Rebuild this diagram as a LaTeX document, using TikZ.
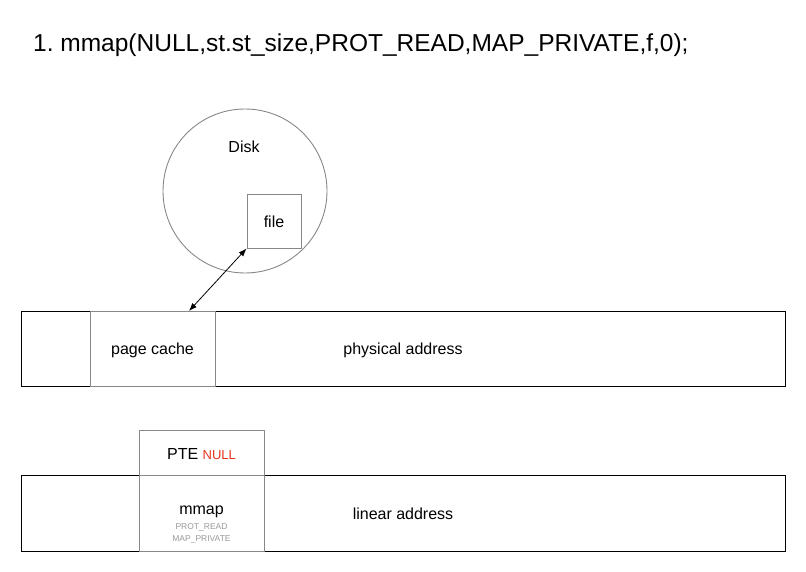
\documentclass[tikz,border=0pt]{standalone}
\usepackage{fontspec}
\setmainfont{Liberation Sans}
\usepackage{xcolor}
\usetikzlibrary{calc,arrows.meta}
\definecolor{boxgray}{HTML}{888888}
\definecolor{notegray}{HTML}{999999}
\definecolor{nullred}{HTML}{E8341C}
\frenchspacing

\tikzset{
  band/.style={draw=black, line width=0.9pt, minimum width=764pt, minimum height=75pt, inner sep=0pt},
  cell/.style={draw=boxgray, fill=white, line width=0.9pt, minimum width=125pt, inner sep=0pt},
  label/.style={font=\fontsize{16}{19}\selectfont, inner sep=0pt},
}

\begin{document}
\begin{tikzpicture}[x=1pt, y=-1pt]
            \useasboundingbox (0,0) rectangle (806,572);
            \node[anchor=base west, inner sep=0pt, font=\fontsize{24.5}{28}\selectfont] at (33,52) (title) {1. mmap(NULL,st.st\_size,PROT\_READ,MAP\_PRIVATE,f,0);};
            % disk and file
            \node[circle, draw=boxgray, line width=0.9pt, minimum size=164pt, inner sep=0pt] at (245,191) (disk) {};
            \node[label] at (244,147) (disktext) {Disk};
            \node[cell, minimum width=54pt, minimum height=54pt] at (274,221) (file) {};
            \node[label] at (274,222) (filetext) {file};
            % physical address
            \node[band] at (403,348.5) (phys) {};
            \node[cell, minimum height=75pt] at (152.5,348.5) (pagecache) {};
            \node[label] at (152.5,350) (cachetext) {page cache};
            \node[label] at (403,350) (phystext) {physical address};
            \coordinate (cachetop) at (189,311);
            \draw[{Latex[length=8pt,width=6pt]}-{Latex[length=8pt,width=6pt]}, line width=0.8pt] (file.south west) -- (cachetop);
            % linear address
            \node[band, minimum height=76pt] at (403,513) (linear) {};
            \node[cell, minimum height=45pt] at (201.5,452.5) (pte) {};
            \node[label] at (201.5,454) (ptetext) {PTE \textcolor{nullred}{\fontsize{13}{15}\selectfont NULL}};
            \node[cell, minimum height=76pt] at (201.5,513) (mmap) {};
            \node[label] at (201.5,512) (mmaptext) {mmap};
            \node[inner sep=0pt, text=notegray, font=\fontsize{8.5}{10}\selectfont, align=center] at (201.5,533.5) (flags) {PROT\_READ\\[2.2pt]MAP\_PRIVATE};
            \node[label] at (403,514) (lineartext) {linear address};
        \end{tikzpicture}
\end{document}
